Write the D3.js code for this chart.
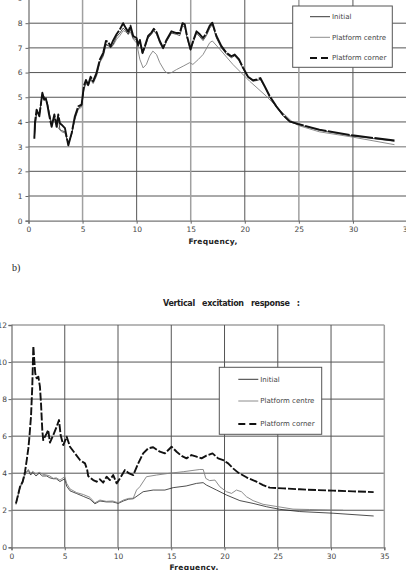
<!DOCTYPE html>
<html><head><meta charset="utf-8">
<script src="https://cdn.jsdelivr.net/npm/d3@7"></script>
<style>
html,body{margin:0;padding:0;background:#fff;}
svg{display:block;}
text{font-family:"DejaVu Sans",Verdana,sans-serif;}
</style></head>
<body>
<script>
// ---------- DATA ----------
const xTicks = [0,5,10,15,20,25,30,35];
const topYTicks = [0,1,2,3,4,5,6,7,8,9];
const botYTicks = [0,2,4,6,8,10,12];
const seriesNames = ["Initial","Platform centre","Platform corner"];
const xLabel = "Frequency,";
const bottomTitle = "Vertical   excitation   response   :";
const panelLabel = "b)";

// top chart (a)
const topCorner = [[0.54,3.32],[0.6,4.0],[0.75,4.5],[1.0,4.23],[1.28,5.18],[1.45,4.9],[1.58,5.0],[1.74,4.7],[1.9,4.3],[2.14,3.8],[2.39,4.3],[2.6,3.8],[2.75,4.3],[2.9,3.95],[3.06,3.89],[3.37,3.75],[3.68,3.05],[3.99,3.55],[4.29,4.23],[4.6,4.63],[4.91,4.7],[5.12,5.45],[5.31,5.7],[5.52,5.5],[5.74,5.83],[5.98,5.65],[6.29,5.99],[6.6,6.53],[6.91,6.8],[7.16,7.28],[7.37,7.24],[7.59,7.06],[7.83,7.3],[8.14,7.55],[8.45,7.75],[8.75,8.0],[9.0,7.8],[9.22,7.65],[9.43,7.9],[9.68,7.48],[9.99,7.4],[10.14,7.12],[10.3,7.32],[10.54,6.8],[10.76,7.07],[11.06,7.48],[11.37,7.62],[11.59,7.77],[11.84,7.64],[12.14,7.28],[12.45,7.0],[12.76,7.32],[13.22,7.67],[13.68,7.6],[13.99,7.6],[14.24,8.0],[14.45,7.95],[14.66,7.48],[14.98,6.94],[15.22,7.28],[15.54,7.67],[15.84,7.55],[16.14,7.4],[16.45,7.6],[16.76,7.9],[17.0,8.02],[17.38,7.48],[17.84,7.07],[18.3,6.8],[18.76,6.66],[19.07,6.73],[19.47,6.53],[19.84,6.2],[20.3,5.83],[20.76,5.69],[21.13,5.72],[21.44,5.78],[21.84,5.45],[22.3,5.05],[22.92,4.63],[23.53,4.29],[24.15,4.02],[24.91,3.92],[26.9,3.69],[29.93,3.46],[33.84,3.25]];
const topInitial = [[0.54,3.4],[0.75,4.45],[1.0,4.3],[1.28,5.1],[1.58,4.95],[1.74,4.75],[2.14,3.9],[2.39,4.2],[2.6,3.85],[2.75,4.2],[2.9,3.7],[3.06,3.65],[3.37,3.6],[3.68,3.1],[3.99,3.5],[4.29,4.15],[4.6,4.55],[4.91,4.65],[5.12,5.35],[5.31,5.6],[5.52,5.5],[5.74,5.75],[5.98,5.6],[6.29,5.9],[6.6,6.45],[6.91,6.7],[7.16,7.15],[7.37,7.1],[7.59,7.0],[7.83,7.15],[8.14,7.45],[8.45,7.6],[8.75,7.8],[9.0,7.7],[9.22,7.55],[9.43,7.75],[9.68,7.4],[9.99,7.3],[10.14,7.05],[10.3,7.25],[10.54,6.75],[10.76,7.0],[11.06,7.4],[11.37,7.55],[11.59,7.7],[11.84,7.55],[12.14,7.2],[12.45,6.95],[12.76,7.25],[13.22,7.6],[13.68,7.55],[13.99,7.5],[14.24,7.9],[14.45,7.85],[14.66,7.4],[14.98,6.9],[15.22,7.2],[15.54,7.6],[15.84,7.45],[16.14,7.3],[16.45,7.5],[16.76,7.8],[17.0,7.95],[17.38,7.4],[17.84,7.0],[18.3,6.75],[18.76,6.6],[19.07,6.68],[19.47,6.48],[19.84,6.15],[20.3,5.8],[20.76,5.65],[21.13,5.68],[21.44,5.72],[21.84,5.4],[22.3,5.0],[22.92,4.6],[23.53,4.25],[24.15,4.0],[24.91,3.9],[26.9,3.66],[29.93,3.43],[33.84,3.22]];
const topCentre = [[0.54,3.35],[0.75,4.4],[1.0,4.25],[1.28,5.15],[1.58,4.9],[1.74,4.8],[2.14,3.85],[2.39,4.25],[2.6,3.9],[2.75,3.75],[3.06,3.6],[3.37,3.55],[3.68,3.15],[3.99,3.5],[4.29,4.1],[4.6,4.5],[4.91,4.6],[5.12,5.3],[5.31,5.55],[5.52,5.45],[5.74,5.7],[5.98,5.55],[6.29,5.85],[6.6,6.4],[6.91,6.65],[7.16,7.1],[7.37,7.1],[7.59,7.0],[7.83,7.1],[8.14,7.35],[8.45,7.5],[8.75,7.7],[9.0,7.65],[9.22,7.55],[9.43,7.65],[9.68,7.35],[9.99,7.2],[10.3,6.53],[10.6,6.19],[10.9,6.33],[11.2,6.67],[11.5,6.87],[11.84,6.73],[12.14,6.4],[12.6,6.06],[12.9,5.96],[13.22,6.0],[13.68,6.12],[14.3,6.26],[14.9,6.4],[15.2,6.33],[15.7,6.53],[16.14,6.73],[16.76,7.21],[17.0,7.28],[17.7,6.94],[18.9,6.33],[20.45,5.65],[22.0,5.04],[23.2,4.5],[24.45,3.98],[25.0,3.85],[26.9,3.6],[29.93,3.39],[33.84,3.08]];

// bottom chart (b)
const botCorner = [[0.42,2.37],[0.8,3.27],[1.05,3.54],[1.27,4.08],[1.43,4.71],[1.58,5.34],[1.67,5.88],[1.83,7.05],[1.95,8.67],[2.05,10.86],[2.14,10.1],[2.23,9.39],[2.36,9.12],[2.52,9.21],[2.67,8.67],[2.77,7.77],[2.89,6.33],[2.98,5.79],[3.3,6.15],[3.45,6.33],[3.61,5.65],[3.92,6.06],[4.24,6.51],[4.46,6.87],[4.61,6.06],[4.86,5.52],[5.18,5.97],[5.49,5.43],[5.96,5.07],[6.43,4.71],[6.9,4.53],[7.11,4.17],[7.2,3.85],[7.67,3.63],[7.99,3.54],[8.3,3.67],[8.61,3.49],[8.93,3.81],[9.24,3.63],[9.55,3.9],[9.87,3.45],[10.18,3.72],[10.65,4.17],[11.05,3.99],[11.43,3.9],[11.9,4.53],[12.36,5.07],[12.83,5.34],[13.3,5.4],[13.93,5.16],[14.4,5.07],[15.03,5.43],[15.5,5.16],[15.97,4.93],[16.43,4.8],[16.9,4.98],[17.37,4.89],[17.84,4.8],[18.3,4.95],[18.87,5.07],[19.4,4.8],[19.87,4.71],[20.34,4.53],[20.8,4.26],[21.28,4.03],[22.06,3.78],[23.0,3.54],[23.62,3.36],[24.25,3.22],[25.5,3.18],[27.06,3.13],[28.63,3.09],[30.19,3.06],[32.07,3.02],[34.0,2.98]];
const botCentre = [[0.42,2.3],[0.8,3.2],[1.05,3.5],[1.27,3.9],[1.58,4.2],[1.8,4.0],[2.0,4.1],[2.3,3.95],[2.6,4.05],[2.9,3.95],[3.3,3.9],[3.6,3.85],[3.92,3.72],[4.2,3.75],[4.55,3.63],[5.0,3.81],[5.18,3.45],[5.49,3.15],[6.12,2.95],[6.74,2.85],[7.36,2.7],[7.83,2.4],[8.3,2.55],[8.9,2.48],[9.5,2.5],[10.02,2.4],[10.5,2.55],[11.0,2.64],[11.43,2.65],[11.74,3.09],[12.05,3.27],[12.67,3.81],[13.61,3.9],[14.87,4.0],[16.12,4.08],[17.68,4.2],[18.0,4.2],[18.24,3.72],[18.6,3.6],[19.1,3.63],[19.56,3.27],[20.19,3.0],[20.66,2.91],[21.12,3.09],[21.59,3.0],[22.06,2.73],[22.68,2.52],[23.62,2.32],[25.03,2.19],[26.43,2.06],[28.0,2.04],[30.19,2.01],[31.13,2.0]];
const botInitial = [[0.42,2.35],[0.8,3.25],[1.05,3.6],[1.27,4.0],[1.58,4.15],[1.8,3.9],[2.0,4.05],[2.3,3.85],[2.6,4.0],[2.9,3.85],[3.3,3.85],[3.6,3.75],[3.92,3.7],[4.2,3.7],[4.55,3.55],[5.0,3.7],[5.18,3.3],[5.49,3.05],[6.12,2.9],[6.74,2.75],[7.36,2.6],[7.83,2.35],[8.3,2.5],[8.9,2.45],[9.5,2.45],[10.02,2.37],[10.5,2.5],[11.0,2.6],[11.43,2.62],[12.36,3.0],[13.3,3.09],[14.4,3.09],[15.18,3.22],[16.4,3.31],[17.37,3.45],[17.99,3.49],[18.3,3.36],[19.25,3.09],[20.19,2.82],[21.44,2.52],[22.68,2.37],[23.94,2.19],[25.19,2.05],[27.06,1.93],[30.19,1.84],[34.0,1.69]];

// ---------- DRAW ----------
const W = 406, H = 570;
const svg = d3.select("body").append("svg").attr("width", W).attr("height", H);

const styles = {
  "Initial": {stroke:"#222", width:0.8, dash:null},
  "Platform centre": {stroke:"#808080", width:0.9, dash:null},
  "Platform corner": {stroke:"#111", width:1.9, dash:"8,2"}
};

function drawChart(cfg){
  const x = d3.scaleLinear().domain([0,35]).range(cfg.xr);
  const y = d3.scaleLinear().domain([0,cfg.ymax]).range(cfg.yr);
  const g = svg.append("g");

  // grid
  g.append("g").selectAll("line").data(cfg.yTicks.filter(d=>d>0)).join("line")
    .attr("x1", x(0)).attr("x2", x(35)).attr("y1", d=>y(d)).attr("y2", d=>y(d))
    .attr("stroke", d=> cfg.lightY.includes(d) ? "#a0a0a0" : "#555")
    .attr("stroke-width", d=> cfg.lightY.includes(d) ? 1.5 : 1);
  g.append("g").selectAll("line").data(xTicks.filter(d=>d>0)).join("line")
    .attr("x1", d=>x(d)).attr("x2", d=>x(d)).attr("y1", y(0)).attr("y2", y(cfg.ymax))
    .attr("stroke", d=> cfg.lightX.includes(d) ? "#a0a0a0" : "#555")
    .attr("stroke-width", d=> cfg.lightX.includes(d) ? 1.5 : 1);

  // axes
  const ax = g.append("g").attr("transform", `translate(0,${y(0)})`)
    .call(d3.axisBottom(x).tickValues(xTicks).tickSize(3).tickPadding(3).tickFormat(d3.format("d")));
  const ay = g.append("g").attr("transform", `translate(${x(0)},0)`)
    .call(d3.axisLeft(y).tickValues(cfg.yTicks).tickSize(3).tickPadding(cfg.yPad).tickFormat(d3.format("d")));
  [ax, ay].forEach(a=>{
    a.select(".domain").attr("stroke","#777").attr("stroke-width",1.3);
    a.selectAll(".tick line").attr("stroke","#666");
    a.selectAll("text").attr("fill","#444").style("font-size","7.5px").style("font-family","DejaVu Sans, sans-serif");
  });

  // series
  const line = d3.line().x(d=>x(d[0])).y(d=>y(d[1]));
  cfg.series.forEach(s=>{
    const st = styles[s.name];
    const dash = (s.name==="Platform corner" && cfg.cornerDash) ? cfg.cornerDash : st.dash;
    g.append("path").datum(s.data).attr("d", line)
      .attr("fill","none").attr("stroke", st.stroke).attr("stroke-width", st.width)
      .attr("stroke-dasharray", dash).attr("stroke-linejoin","round");
  });

  // x label
  g.append("text").attr("x", cfg.xLabelX).attr("y", cfg.xLabelY)
    .attr("text-anchor","middle").attr("fill","#222")
    .style("font-size","7.5px").style("font-weight","bold").style("letter-spacing","0.3px")
    .text(xLabel);

  // legend
  const L = cfg.legend;
  const lg = g.append("g");
  lg.append("rect").attr("x", L.x).attr("y", L.y).attr("width", L.w).attr("height", L.h)
    .attr("fill","#fff").attr("stroke","#555").attr("stroke-width",1);
  seriesNames.forEach((n,i)=>{
    const st = styles[n];
    const yy = L.y + L.rows[i];
    lg.append("line").attr("x1", L.x + L.lx1).attr("x2", L.x + L.lx2).attr("y1", yy).attr("y2", yy)
      .attr("stroke", st.stroke).attr("stroke-width", n==="Platform corner"?2:0.9)
      .attr("stroke-dasharray", n==="Platform corner" ? "7,4" : null);
    lg.append("text").attr("x", L.x + L.lx2 + 2).attr("y", yy).attr("dy","0.35em")
      .attr("fill","#444").style("font-size","7px").text(n);
  });
}

// top chart
drawChart({
  xr:[28.5, 407], yr:[220.7, -1.5], ymax:9, yTicks: topYTicks, yPad:3,
  lightX:[5,15,25], lightY:[3], cornerDash:"22,1.5",
  series:[{name:"Platform centre", data: topCentre},{name:"Initial", data: topInitial},{name:"Platform corner", data: topCorner}],
  xLabelX: 213, xLabelY: 244,
  legend:{x:292.7, y:6, w:99.6, h:61.3, rows:[10.7,31.3,52], lx1:17.3, lx2:37.3}
});

// panel label
svg.append("text").attr("x", 12).attr("y", 271).attr("fill","#222")
  .style("font-family","Liberation Serif, Times New Roman, serif").style("font-size","10px").text(panelLabel);

// bottom title
svg.append("text").attr("x", 163).attr("y", 305.5).attr("fill","#222")
  .style("font-size","8px").style("font-weight","bold")
  .attr("xml:space","preserve").attr("textLength", 137).attr("lengthAdjust","spacing")
  .text(bottomTitle);

// bottom chart
drawChart({
  xr:[11.5, 384.3], yr:[547.3, 325], ymax:12, yTicks: botYTicks, yPad:1.5,
  lightX:[35], lightY:[12],
  series:[{name:"Initial", data: botInitial},{name:"Platform centre", data: botCentre},{name:"Platform corner", data: botCorner}],
  xLabelX: 194, xLabelY: 570,
  legend:{x:219.3, y:367.3, w:102.4, h:67, rows:[12,33.7,56.7], lx1:19, lx2:39}
});
</script>
</body></html>
